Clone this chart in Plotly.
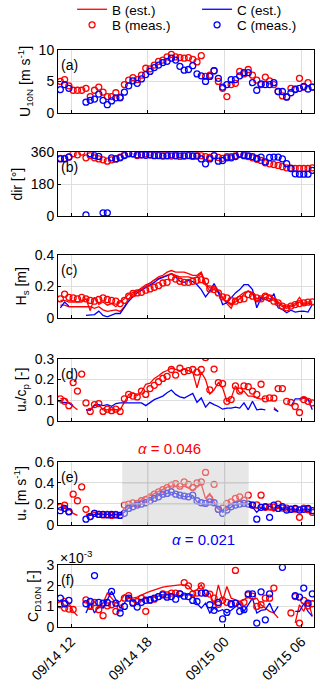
import pandas as pd
import plotly.graph_objects as go
from plotly.subplots import make_subplots

N = None
time = pd.date_range("2019-09-14 11:10", periods=60, freq="20min")
tick_times = ["2019-09-14 12:00", "2019-09-14 18:00", "2019-09-15 00:00", "2019-09-15 06:00"]

# (a) wind speed U10N [m s-1]
u10n_B_meas = [5.0, 5.3, 4.3, 3.6, 3.6, 3.6, 3.9, 2.6, 3.6, 4.1, 3.3, 2.6, 2.6, 3.2, 2.5,
               4.5, 5.2, 5.6, 5.3, 6.0, 7.1, 7.0, 7.6, 8.2, 8.4, 8.9, 9.3, 8.9, 8.8, 8.7,
               8.8, 8.5, 8.1, 9.1, 5.8, 6.0, 6.7, 5.0, 3.9, 2.6, 4.5, 4.7, 6.6, 6.2, 6.9,
               6.0, 5.2, 4.5, 5.7, 5.1, 4.5, 3.4, 2.7, 2.6, 3.9, 3.8, 5.5, 4.1, 4.8, 4.1]
u10n_C_meas = [3.7, 4.5, 3.9, N, N, N, 1.7, 2.0, 2.2, 3.0, 2.0, 1.3, 1.9, 2.4, 2.4,
               3.3, 4.3, 5.1, 4.7, 5.4, 6.1, 6.6, 7.2, 7.6, 8.0, 8.2, 8.7, 8.4, 7.4, 6.8,
               6.9, 7.5, 6.2, 5.9, 5.0, 5.8, 6.7, 5.5, 4.1, 4.5, 5.3, 5.3, 5.9, 6.4, 6.4,
               4.8, 3.6, 4.6, 4.5, 4.5, 4.8, 3.4, 3.4, 2.5, 3.2, 3.7, 3.9, 4.2, 3.8, 4.1]

# (b) wind direction [deg]
dir_B_meas = [325, 325, 333, 351, 345, 360, 328, 341, 328, 322, 317, 309, 317, 322, 332,
              345, 354, 351, 341, 345, 350, 345, 342, 340, 342, 340, 338, 340, 336, 338,
              340, 336, 342, 340, 335, 330, 340, 330, 325, 335, 335, 340, 352, 345, 335,
              328, 320, 313, 300, 294, 290, 285, 278, 272, 270, 268, 268, 268, 268, 272]
dir_C_meas = [322, 322, 332, N, N, N, 7, 351, 341, 336, 19, 19, 328, 322, 328,
              341, 351, 351, 345, 345, 342, 345, 340, 342, 338, 340, 345, 340, 345, 340,
              342, 340, 338, 322, 294, 322, 341, 309, 313, 328, 328, 335, 348, 340, 340,
              335, 325, 332, 305, 330, 332, 332, 322, 295, 268, 238, 236, 236, 236, 258]

# (c) significant wave height Hs [m]
hs_B_meas = [0.12, 0.15, 0.13, 0.126, 0.12, 0.13, 0.12, 0.11, 0.105, 0.116, 0.126, 0.116, 0.11, 0.105, 0.09,
             0.11, 0.137, 0.154, 0.158, 0.162, 0.175, 0.183, 0.194, 0.204, 0.221, 0.225, 0.259, 0.246, 0.232, 0.225,
             0.225, 0.232, 0.238, 0.242, 0.232, 0.183, 0.179, 0.158, 0.133, 0.126, 0.11, 0.105, 0.116, 0.12, 0.147,
             0.137, 0.126, 0.12, 0.137, 0.126, 0.105, 0.095, 0.074, 0.063, 0.074, 0.084, 0.09, 0.095, 0.099, 0.101]
hs_B_est1 = [0.11, 0.11, 0.10, 0.10, 0.10, 0.10, 0.12, 0.045, 0.13, 0.085, 0.10, 0.08, 0.09, 0.07, 0.10,
             0.12, 0.15, 0.16, 0.17, 0.18, 0.20, 0.22, 0.24, 0.26, 0.27, 0.29, 0.30, 0.29, 0.29, 0.29,
             0.28, 0.27, 0.27, 0.29, 0.22, 0.19, 0.19, 0.17, 0.13, 0.09, 0.06, 0.12, 0.14, 0.16, 0.17,
             0.16, 0.12, 0.13, 0.15, 0.14, 0.12, 0.10, 0.08, 0.07, 0.08, 0.09, 0.13, 0.09, 0.10, 0.10]
hs_B_est2 = [0.08, 0.08, 0.07, 0.07, 0.07, 0.07, 0.07, 0.07, 0.06, 0.07, 0.05, 0.04, 0.045, 0.05, 0.04,
             0.07, 0.12, 0.15, 0.17, 0.19, 0.21, 0.22, 0.24, 0.25, 0.26, 0.27, 0.28, 0.27, 0.26, 0.26,
             0.26, 0.25, 0.26, 0.28, 0.21, 0.17, 0.18, 0.16, 0.12, 0.10, 0.08, 0.10, 0.12, 0.15, 0.17,
             0.15, 0.10, 0.11, 0.13, 0.12, 0.11, 0.09, 0.07, 0.06, 0.07, 0.08, 0.10, 0.08, 0.09, 0.09]
hs_C_est = [0.063, 0.10, 0.074, N, N, N, 0.015, 0.018, 0.02, 0.042, 0.015, 0.006, 0.015, 0.027, 0.027,
            0.063, 0.105, 0.133, 0.158, 0.175, 0.19, 0.21, 0.225, 0.246, 0.259, 0.267, 0.278, 0.259, 0.232, 0.225,
            0.238, 0.23, 0.21, 0.179, 0.133, 0.168, 0.217, 0.162, 0.084, 0.095, 0.126, 0.158, 0.179, 0.21, 0.21,
            0.179, 0.063, 0.126, 0.116, 0.105, 0.154, 0.063, 0.053, 0.032, 0.048, 0.036, 0.04, 0.042, 0.036, 0.084]

# (d) wave age u*/cp [-]
ucp_B_meas = [0.107, 0.095, 0.074, 0.185, 0.144, 0.226, 0.087, 0.046, 0.079, 0.084, 0.046, 0.057, 0.05, 0.057, 0.046,
              0.107, 0.128, 0.12, 0.116, 0.144, 0.128, 0.156, 0.172, 0.189, 0.205, 0.215, 0.248, 0.221, 0.254, 0.238,
              0.243, 0.248, 0.235, 0.248, 0.305, 0.15, 0.25, 0.185, 0.18, 0.095, 0.103, 0.169, 0.144, 0.169, 0.165,
              0.144, 0.128, 0.177, 0.107, 0.111, 0.11, 0.156, 0.156, 0.095, 0.09, 0.07, 0.041, 0.103, 0.095, 0.087]
ucp_B_est = [0.107, 0.11, 0.087, 0.07, 0.054, N, 0.054, 0.051, 0.079, 0.079, 0.054, 0.055, 0.055, 0.055, 0.054,
             0.095, 0.128, 0.136, 0.123, 0.139, 0.177, 0.182, 0.205, 0.218, 0.234, 0.243, 0.254, 0.248, 0.243, 0.25,
             0.243, 0.235, 0.16, 0.234, 0.2, 0.13, 0.15, 0.185, 0.16, 0.095, 0.11, 0.169, 0.136, 0.144, 0.12,
             0.12, 0.11, 0.105, 0.11, N, 0.065, 0.045, N, N, N, N, 0.10, 0.11, 0.10, 0.09]
ucp_C_est = [0.087, 0.09, 0.087, 0.074, N, N, 0.054, 0.054, 0.074, 0.079, 0.074, 0.079, 0.071, 0.084, 0.087,
             0.087, 0.09, 0.09, 0.087, 0.087, 0.074, 0.087, 0.103, 0.111, 0.12, 0.136, 0.149, 0.128, 0.116, 0.111,
             0.123, 0.133, 0.09, 0.111, 0.067, 0.09, 0.079, 0.07, 0.057, 0.062, 0.062, 0.067, 0.062, 0.087, 0.054,
             0.095, 0.054, 0.057, 0.054, N, 0.057, 0.046, N, N, 0.07, 0.107, 0.107, 0.116, 0.107, 0.054]

# (e) friction velocity u* [m s-1]
ust_B_meas = [0.173, 0.189, 0.126, 0.293, 0.23, 0.362, 0.148, 0.08, 0.11, 0.1, 0.095, 0.1, 0.09, 0.1, 0.09,
              0.189, 0.198, 0.21, 0.205, 0.23, 0.243, 0.268, 0.293, 0.315, 0.337, 0.356, 0.378, 0.394, 0.369, 0.41,
              0.387, 0.356, 0.40, 0.41, 0.50, 0.25, 0.387, 0.148, 0.16, 0.205, 0.22, 0.252, 0.268, 0.236, 0.283,
              0.189, 0.19, 0.283, 0.167, 0.17, 0.17, 0.198, 0.16, 0.16, 0.15, 0.15, 0.072, 0.16, 0.145, 0.12]
ust_C_meas = [0.135, 0.157, 0.126, N, N, N, 0.054, 0.079, 0.11, 0.1, 0.1, 0.095, 0.1, 0.095, 0.09,
              0.11, 0.157, 0.173, 0.189, 0.198, 0.211, 0.23, 0.252, 0.268, 0.293, 0.3, 0.315, 0.293, 0.283, 0.275,
              0.268, 0.283, 0.23, 0.211, 0.205, 0.22, 0.211, 0.148, 0.11, 0.142, 0.173, 0.189, 0.198, 0.205, 0.198,
              0.189, 0.054, 0.167, 0.173, 0.072, 0.189, 0.157, 0.173, 0.142, 0.148, 0.157, 0.142, 0.148, 0.157, 0.135]
ust_B_est = [0.17, 0.18, 0.15, 0.11, 0.09, N, 0.1, 0.1, 0.12, 0.11, 0.1, 0.1, 0.1, 0.1, 0.09,
             0.16, 0.19, 0.2, 0.21, 0.24, 0.27, 0.28, 0.3, 0.32, 0.34, 0.36, 0.37, 0.37, 0.36, 0.37,
             0.35, 0.33, 0.36, 0.39, 0.25, 0.3, 0.22, 0.17, 0.14, 0.16, 0.2, 0.22, 0.23, 0.21, 0.2,
             0.17, 0.16, 0.17, 0.16, 0.15, 0.13, 0.16, 0.15, 0.15, 0.14, 0.14, 0.13, 0.14, 0.13, 0.11]
ust_C_est = [0.14, 0.16, 0.14, N, N, N, 0.08, 0.09, 0.1, 0.1, 0.1, 0.1, 0.09, 0.1, 0.1,
             0.12, 0.16, 0.18, 0.19, 0.2, 0.22, 0.24, 0.26, 0.28, 0.29, 0.3, 0.31, 0.3, 0.28, 0.27,
             0.27, 0.28, 0.22, 0.2, 0.19, 0.22, 0.2, 0.15, 0.12, 0.14, 0.17, 0.19, 0.2, 0.2, 0.2,
             0.17, 0.12, 0.16, 0.15, 0.18, 0.14, 0.17, 0.16, 0.15, 0.15, 0.15, 0.14, 0.15, 0.15, 0.13]

# (f) drag coefficient CD10N [x 1e-3]
cd_B_meas = [1.08, 0.92, 0.87, 0.85, N, N, 1.32, 1.0, 1.19, 0.84, 0.55, 1.03, 1.08, 0.76, 0.92,
             1.4, 1.52, 1.19, 1.24, 1.4, 0.76, 1.29, 1.35, 1.48, 1.61, 1.56, 1.65, 1.65, 1.61, 2.16,
             2.0, 1.61, 1.65, 2.0, 1.65, 1.6, 1.4, 1.1, 1.3, 1.2, 1.1, 2.75, 1.08, 1.2, 1.56,
             1.5, 1.0, 1.08, 1.4, 1.4, 1.89, N, N, N, 0.68, 1.48, 0.19, 1.29, 1.03, 1.13]
cd_C_meas = [1.4, 1.13, 1.29, N, N, N, 1.13, 1.24, 2.5, 1.2, 1.16, 1.19, 1.73, 1.16, 0.68,
             1.0, 1.4, 1.16, 0.97, 1.2, 1.3, 1.32, 1.4, 1.48, 1.56, 1.45, 1.48, 1.35, 1.61, 1.5,
             1.48, 1.29, 1.24, 1.65, 1.65, 1.08, 0.81, 1.19, 0.39, 0.71, 1.13, 1.16, 0.76, 0.84, 1.61,
             1.61, 0.19, 1.71, 0.35, 1.61, N, N, 2.9, N, N, 1.52, 1.45, 1.89, 1.16, 1.61]
cd_B_est = [1.3, 1.4, 1.16, 0.76, 0.55, N, 1.24, 0.84, 1.24, 0.92, 1.16, 1.65, 1.4, 1.16, 1.24,
            1.56, 1.48, 1.4, 1.45, 1.56, 1.65, 1.73, 1.81, 1.89, 1.94, 1.97, 2.0, 2.05, 2.05, 2.05,
            2.0, 1.73, 1.81, 2.05, 1.56, 1.65, 1.08, 2.05, 1.29, 1.97, 1.4, 1.32, 1.24, 1.32, 1.48,
            1.32, 1.4, 1.08, 0.92, 0.76, 0.68, 0.44, N, N, N, 0.2, 1.08, 0.76, 1.32, 0.52]
cd_C_est = [1.3, 1.0, 1.08, N, N, N, 0.68, 1.16, 0.68, 1.0, 0.92, 1.32, 1.73, 1.32, 0.92,
            1.16, 1.48, 1.24, 1.16, 1.3, 1.4, 1.48, 1.45, 1.52, 1.56, 1.56, 1.61, 1.56, 1.52, 1.56,
            1.56, 1.56, 1.13, 0.92, 1.16, 0.68, 0.92, 0.76, 0.84, 0.68, 0.81, 1.0, 1.16, 0.76, 1.08,
            1.4, 0.68, 0.81, 0.84, 1.16, 0.68, 1.0, N, N, N, 0.76, 0.76, 1.13, 0.76, 0.52]

# shaded fetch-limited period in (e)
shade_start, shade_end = "2019-09-14 16:00", "2019-09-15 01:52"

RED = "#ff0000"
BLUE = "#0000ff"
FONT = "Liberation Sans, Arial, sans-serif"

fig = make_subplots(rows=6, cols=1, shared_xaxes=True)


def add_line(y, color, row, name, show=False):
    fig.add_trace(go.Scatter(x=time, y=y, mode="lines", name=name, legend="legend",
                             line=dict(color=color, width=1.3), showlegend=show,
                             connectgaps=False), row=row, col=1)


def add_circles(y, color, row, name, show=False):
    fig.add_trace(go.Scatter(x=time, y=y, mode="markers", name=name, legend="legend2",
                             marker=dict(symbol="circle-open", size=6, color=color,
                                         line=dict(width=1.3, color=color)),
                             showlegend=show), row=row, col=1)


# (a)
add_circles(u10n_B_meas, RED, 1, "B (meas.)", True)
add_circles(u10n_C_meas, BLUE, 1, "C (meas.)", True)
# (b)
add_circles(dir_B_meas, RED, 2, "B (meas.)")
add_circles(dir_C_meas, BLUE, 2, "C (meas.)")
# (c)
add_line(hs_B_est1, RED, 3, "B (est.)", True)
add_line(hs_B_est2, RED, 3, "B (est.)")
add_line(hs_C_est, BLUE, 3, "C (est.)", True)
add_circles(hs_B_meas, RED, 3, "B (meas.)")
# (d)
add_line(ucp_B_est, RED, 4, "B (est.)")
add_line(ucp_C_est, BLUE, 4, "C (est.)")
add_circles(ucp_B_meas, RED, 4, "B (meas.)")
# (e)
add_line(ust_B_est, RED, 5, "B (est.)")
add_line(ust_C_est, BLUE, 5, "C (est.)")
add_circles(ust_B_meas, RED, 5, "B (meas.)")
add_circles(ust_C_meas, BLUE, 5, "C (meas.)")
# (f)
add_line(cd_B_est, RED, 6, "B (est.)")
add_line(cd_C_est, BLUE, 6, "C (est.)")
add_circles(cd_B_meas, RED, 6, "B (meas.)")
add_circles(cd_C_meas, BLUE, 6, "C (meas.)")

# panel placement (paper fractions of the plotting area)
domains = [[0.891, 1.0], [0.712, 0.823], [0.536, 0.645], [0.357, 0.465], [0.177, 0.286], [0.0, 0.107]]
y_ranges = [[0, 10], [0, 360], [0, 0.4], [0, 0.3], [0, 0.6], [0, 3]]
y_ticks = [[0, 5, 10], [0, 180, 360], [0, 0.2, 0.4], [0, 0.1, 0.2, 0.3], [0, 0.2, 0.4, 0.6], [0, 1, 2, 3]]
y_titles = ["U<sub>10N</sub> [m s<sup>-1</sup>]", "dir [°]", "H<sub>s</sub> [m]",
            "u<sub>*</sub>/c<sub>p</sub> [-]", "u<sub>*</sub> [m s<sup>-1</sup>]", "C<sub>D10N</sub> [-]"]
labels = ["(a)", "(b)", "(c)", "(d)", "(e)", "(f)"]

for i in range(6):
    r = i + 1
    fig.update_yaxes(row=r, col=1, domain=domains[i], range=y_ranges[i], tickvals=y_ticks[i],
                     title=dict(text=y_titles[i], standoff=4, font=dict(size=14)),
                     showgrid=True, gridcolor="#dedede", gridwidth=1, zeroline=False,
                     showline=True, linecolor="black", linewidth=1, mirror=True,
                     ticks="inside", ticklen=3, tickcolor="black", automargin=False,
                     tickfont=dict(size=14))
    fig.update_xaxes(row=r, col=1, range=["2019-09-14 10:59", "2019-09-15 06:58"],
                     tickvals=tick_times, tickformat="%m/%d %H", tickangle=-45,
                     showticklabels=(r == 6), showgrid=True, gridcolor="#dedede", gridwidth=1,
                     zeroline=False, showline=True, linecolor="black", linewidth=1, mirror=True,
                     ticks="inside", ticklen=3, tickcolor="black", automargin=False,
                     tickfont=dict(size=14))
    xname = "x" if r == 1 else "x%d" % r
    fig.add_annotation(text=labels[i], xref=xname + " domain", yref=("y" if r == 1 else "y%d" % r) + " domain",
                       x=0.005, y=0.92, xanchor="left", yanchor="top", showarrow=False,
                       font=dict(size=14, color="black"))

# translucent patch over (e), with the grid redrawn on top of it
fig.add_shape(type="rect", xref="x5", yref="y5 domain", x0=shade_start, x1=shade_end,
              y0=0, y1=1, fillcolor="rgba(208,208,208,0.5)", line=dict(width=0), layer="above")
for gx in tick_times[1:3]:
    fig.add_shape(type="line", xref="x5", yref="y5 domain", x0=gx, x1=gx, y0=0, y1=1,
                  line=dict(color="#c4c4c4", width=1), layer="above")
for gy in [0.2, 0.4]:
    fig.add_shape(type="line", xref="x5", yref="y5", x0=shade_start, x1=shade_end, y0=gy, y1=gy,
                  line=dict(color="#c4c4c4", width=1), layer="above")

fig.add_annotation(text="<i>α</i> = 0.046", xref="paper", yref="paper", x=0.434, y=0.3085,
                   xanchor="center", yanchor="middle", showarrow=False, font=dict(size=15, color=RED))
fig.add_annotation(text="<i>α</i> = 0.021", xref="paper", yref="paper", x=0.570, y=0.1508,
                   xanchor="center", yanchor="middle", showarrow=False, font=dict(size=15, color=BLUE))
fig.add_annotation(text="×10<sup>-3</sup>", xref="paper", yref="paper", x=0.0, y=0.121,
                   xanchor="left", yanchor="middle", showarrow=False, font=dict(size=14, color="black"))

legend_style = dict(orientation="h", x=0.055, xanchor="left", yanchor="middle",
                    entrywidth=80, entrywidthmode="pixels", font=dict(size=13.5),
                    itemwidth=30, bgcolor="rgba(0,0,0,0)")
fig.update_layout(
    template="none",
    width=320, height=689,
    margin=dict(l=58, r=6, t=50, b=62, autoexpand=False),
    paper_bgcolor="white", plot_bgcolor="white",
    font=dict(family=FONT, size=14, color="black"),
    legend=dict(y=1.0702, **legend_style),
    legend2=dict(y=1.0433, **legend_style),
)

fig.write_html("out.html", config={"displayModeBar": False},
               post_script="document.body.style.margin = '0';")
